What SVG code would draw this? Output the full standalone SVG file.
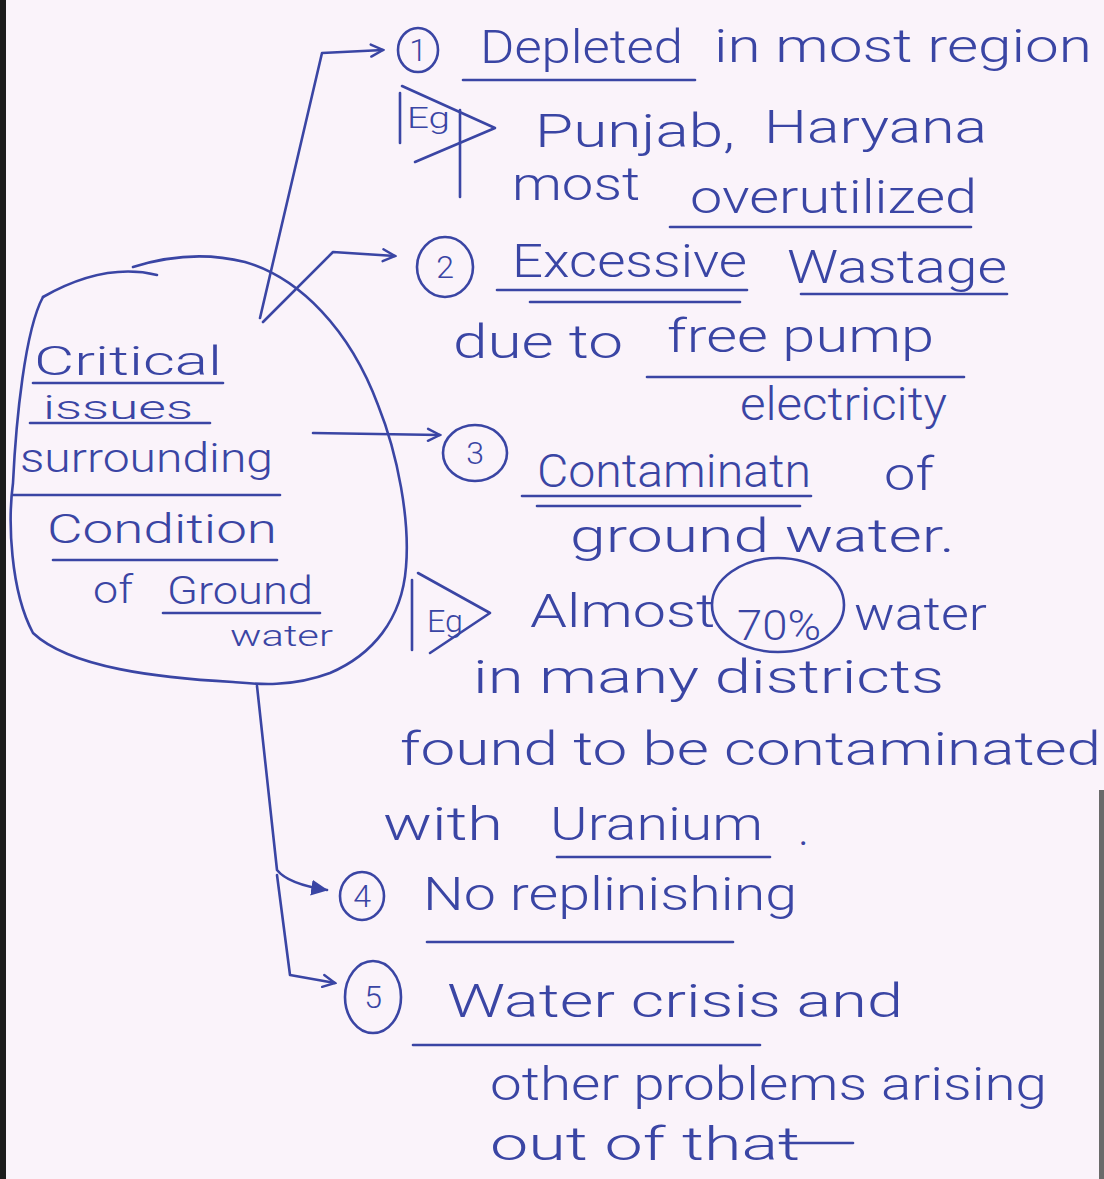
<svg xmlns="http://www.w3.org/2000/svg" width="1104" height="1179" viewBox="0 0 1104 1179">
<style>
.ink{fill:none;stroke:#3a45a4;stroke-width:2.6;stroke-linecap:round;stroke-linejoin:round}
.t{fill:#3a45a4;font-family:Roboto,"Liberation Sans","DejaVu Sans",sans-serif;font-weight:300;font-size:46px}
.s{font-size:40px}
.n{font-size:32px;text-anchor:middle}
</style>
<defs>
<marker id="open" viewBox="0 0 16 16" refX="14" refY="8" markerWidth="16" markerHeight="16" markerUnits="userSpaceOnUse" orient="auto">
<path d="M2,2 L14,8 L2,14" fill="none" stroke="#3a45a4" stroke-width="2.4" stroke-linecap="round"/>
</marker>
<marker id="solid" viewBox="0 0 16 16" refX="14" refY="8" markerWidth="18" markerHeight="18" markerUnits="userSpaceOnUse" orient="auto">
<path d="M0,1 L15,8 L0,15 Z" fill="#3a45a4"/>
</marker>
</defs>
<rect width="1104" height="1179" fill="#faf3fa"/>
<rect x="0" y="0" width="6" height="1179" fill="#1c1c1c"/>
<rect x="1099" y="790" width="5" height="389" fill="#6a6a6a"/>

<g id="center">
<path class="ink" d="M43,297 C80,276 120,266 157,275"/>
<path class="ink" d="M133,267 C165,257 205,252 245,262 C300,278 350,330 378,405 C398,455 410,520 406,567 C402,620 372,655 330,673 C290,688 255,684 233,682 C160,678 70,668 33,633 C10,590 8,520 13,483 C16,420 25,330 43,297"/>
<line class="ink" x1="13" y1="495" x2="280" y2="495"/>
<line class="ink" x1="33" y1="383" x2="223" y2="383"/>
<line class="ink" x1="30" y1="423" x2="210" y2="423"/>
<line class="ink" x1="53" y1="560" x2="277" y2="560"/>
<line class="ink" x1="163" y1="613" x2="320" y2="613"/>
<text class="t s" x="34" y="375" textLength="188" lengthAdjust="spacingAndGlyphs">Critical</text>
<text class="t" style="font-size:34px" x="43" y="419" textLength="150" lengthAdjust="spacingAndGlyphs">issues</text>
<text class="t s" x="20" y="472" textLength="253" lengthAdjust="spacingAndGlyphs">surrounding</text>
<text class="t s" x="47" y="543" textLength="230" lengthAdjust="spacingAndGlyphs">Condition</text>
<text class="t" style="font-size:38px" x="93" y="603" textLength="40" lengthAdjust="spacingAndGlyphs">of</text>
<text class="t" style="font-size:38px" x="167" y="604" textLength="146" lengthAdjust="spacingAndGlyphs">Ground</text>
<text class="t" style="font-size:30px" x="230" y="646" textLength="103" lengthAdjust="spacingAndGlyphs">water</text>
</g>

<g id="connectors">
<path class="ink" d="M260,318 L322,53 L383,50" marker-end="url(#open)"/>
<path class="ink" d="M263,322 L333,252 L395,256" marker-end="url(#open)"/>
<path class="ink" d="M313,433 L440,435" marker-end="url(#open)"/>
<path class="ink" d="M257,686 L277,870 Q288,884 327,890" marker-end="url(#solid)"/>
<path class="ink" d="M277,875 L290,975 L335,983" marker-end="url(#open)"/>
</g>

<g id="item1">
<ellipse class="ink" cx="418" cy="50" rx="20" ry="22"/>
<text class="t n" x="418" y="61">1</text>
<text class="t" x="480" y="63" textLength="203" lengthAdjust="spacingAndGlyphs">Depleted</text>
<line class="ink" x1="463" y1="80" x2="695" y2="80"/>
<text class="t" x="714" y="62" textLength="378" lengthAdjust="spacingAndGlyphs">in most region</text>
</g>

<g id="example1">
<line class="ink" x1="400" y1="93" x2="400" y2="143"/>
<path class="ink" d="M402,86 L495,128 L415,162"/>
<line class="ink" x1="460" y1="110" x2="460" y2="197"/>
<text class="t" style="font-size:30px" x="407" y="128" textLength="43" lengthAdjust="spacingAndGlyphs">Eg</text>
<text class="t" x="535" y="147" textLength="200" lengthAdjust="spacingAndGlyphs">Punjab,</text>
<text class="t" x="764" y="143" textLength="223" lengthAdjust="spacingAndGlyphs">Haryana</text>
<text class="t" x="512" y="200" textLength="128" lengthAdjust="spacingAndGlyphs">most</text>
<text class="t" x="690" y="213" textLength="287" lengthAdjust="spacingAndGlyphs">overutilized</text>
<line class="ink" x1="670" y1="227" x2="971" y2="227"/>
</g>

<g id="item2">
<ellipse class="ink" cx="445" cy="267" rx="28" ry="30"/>
<text class="t n" x="445" y="278">2</text>
<text class="t" x="512" y="277" textLength="235" lengthAdjust="spacingAndGlyphs">Excessive</text>
<text class="t" x="787" y="283" textLength="220" lengthAdjust="spacingAndGlyphs">Wastage</text>
<line class="ink" x1="497" y1="290" x2="747" y2="290"/>
<line class="ink" x1="530" y1="302" x2="740" y2="302"/>
<line class="ink" x1="801" y1="294" x2="1007" y2="294"/>
<text class="t" x="453" y="358" textLength="170" lengthAdjust="spacingAndGlyphs">due to</text>
<text class="t" x="667" y="352" textLength="267" lengthAdjust="spacingAndGlyphs">free pump</text>
<line class="ink" x1="647" y1="377" x2="964" y2="377"/>
<text class="t" x="740" y="420" textLength="207" lengthAdjust="spacingAndGlyphs">electricity</text>
</g>

<g id="item3">
<ellipse class="ink" cx="475" cy="453" rx="32" ry="28"/>
<text class="t n" x="475" y="464">3</text>
<text class="t" x="537" y="487" textLength="274" lengthAdjust="spacingAndGlyphs">Contaminatn</text>
<text class="t" x="884" y="490" textLength="50" lengthAdjust="spacingAndGlyphs">of</text>
<line class="ink" x1="522" y1="496" x2="811" y2="496"/>
<line class="ink" x1="537" y1="506" x2="800" y2="506"/>
<text class="t" x="570" y="552" textLength="385" lengthAdjust="spacingAndGlyphs">ground water.</text>
</g>

<g id="example3">
<line class="ink" x1="412" y1="580" x2="412" y2="650"/>
<path class="ink" d="M418,573 L490,613 L430,653"/>
<text class="t" style="font-size:32px" x="427" y="632" textLength="36" lengthAdjust="spacingAndGlyphs">Eg</text>
<text class="t" x="530" y="627" textLength="185" lengthAdjust="spacingAndGlyphs">Almost</text>
<ellipse class="ink" cx="778" cy="605" rx="66" ry="47"/>
<text class="t" style="font-size:42px" x="737" y="640" textLength="84" lengthAdjust="spacingAndGlyphs">70%</text>
<text class="t" x="854" y="630" textLength="133" lengthAdjust="spacingAndGlyphs">water</text>
<text class="t" x="473" y="693" textLength="471" lengthAdjust="spacingAndGlyphs">in many districts</text>
<text class="t" x="400" y="765" textLength="701" lengthAdjust="spacingAndGlyphs">found to be contaminated</text>
<text class="t" x="383" y="840" textLength="120" lengthAdjust="spacingAndGlyphs">with</text>
<text class="t" x="550" y="840" textLength="213" lengthAdjust="spacingAndGlyphs">Uranium</text>
<text class="t" x="798" y="845">.</text>
<line class="ink" x1="557" y1="857" x2="770" y2="857"/>
</g>

<g id="item4">
<ellipse class="ink" cx="362" cy="896" rx="22" ry="24"/>
<text class="t n" x="362" y="907">4</text>
<text class="t" x="423" y="910" textLength="374" lengthAdjust="spacingAndGlyphs">No replinishing</text>
<line class="ink" x1="427" y1="942" x2="733" y2="942"/>
</g>

<g id="item5">
<ellipse class="ink" cx="373" cy="997" rx="28" ry="36"/>
<text class="t n" x="373" y="1008">5</text>
<text class="t" x="447" y="1017" textLength="456" lengthAdjust="spacingAndGlyphs">Water crisis and</text>
<line class="ink" x1="413" y1="1045" x2="760" y2="1045"/>
<text class="t" x="490" y="1100" textLength="557" lengthAdjust="spacingAndGlyphs">other problems arising</text>
<text class="t" x="490" y="1160" textLength="310" lengthAdjust="spacingAndGlyphs">out of that</text>
<line class="ink" x1="780" y1="1143" x2="853" y2="1143"/>
</g>
</svg>
